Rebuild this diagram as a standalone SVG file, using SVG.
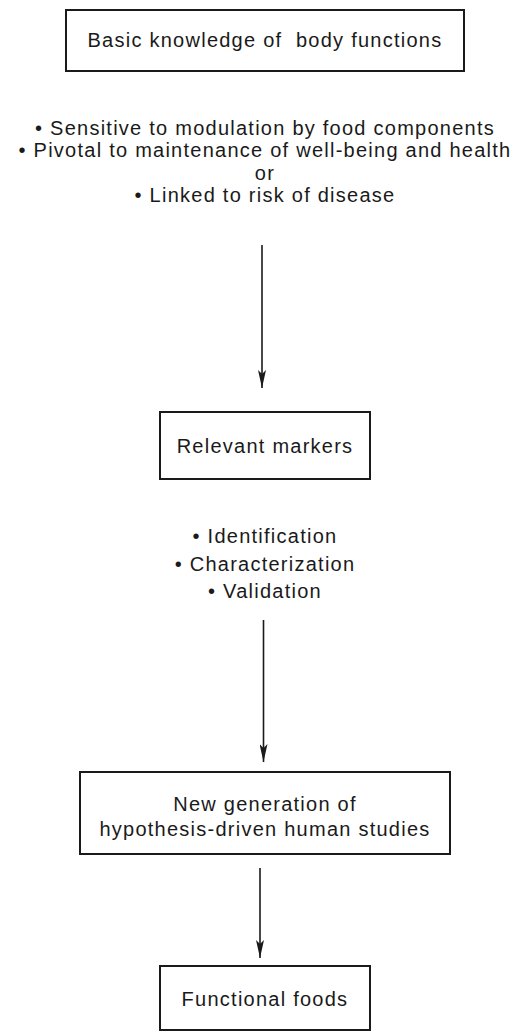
<svg xmlns="http://www.w3.org/2000/svg" width="528" height="1036" viewBox="0 0 528 1036">
<defs>
<style>
.box{fill:#fff;stroke:#1a1a1a;stroke-width:2}
.t{font-family:"Liberation Sans",Arial,sans-serif;font-size:20px;letter-spacing:1.25px;fill:#1a1a1a;text-anchor:middle;white-space:pre}
.c{stroke:#1a1a1a;stroke-width:1.6;fill:none}
</style>
<marker id="ah" viewBox="0 0 18 8" refX="18" refY="4" markerWidth="18" markerHeight="8" markerUnits="userSpaceOnUse" orient="auto">
<path d="M0,0 L18,4 L0,8 L4,4 Z" fill="#1a1a1a"/>
</marker>
</defs>
<rect width="528" height="1036" fill="#fff"/>
<g id="n1">
<rect class="box" x="66" y="10" width="398" height="61"/>
<text class="t" x="265" y="47" xml:space="preserve">Basic knowledge of  body functions</text>
</g>
<g id="l1">
<text class="t" x="265" y="135">• Sensitive to modulation by food components</text>
<text class="t" x="265" y="157">• Pivotal to maintenance of well-being and health</text>
<text class="t" x="265" y="180">or</text>
<text class="t" x="265" y="202">• Linked to risk of disease</text>
</g>
<g id="n2">
<rect class="box" x="160" y="412" width="210" height="67"/>
<text class="t" x="265" y="453">Relevant markers</text>
</g>
<g id="l2">
<text class="t" x="265" y="543">• Identification</text>
<text class="t" x="265" y="571">• Characterization</text>
<text class="t" x="265" y="598">• Validation</text>
</g>
<g id="n3">
<rect class="box" x="80" y="772" width="370" height="82"/>
<text class="t" x="265" y="811">New generation of</text>
<text class="t" x="265" y="836">hypothesis-driven human studies</text>
</g>
<g id="n4">
<rect class="box" x="160" y="966" width="210" height="64"/>
<text class="t" x="265" y="1006">Functional foods</text>
</g>
<g id="connectors">
<line class="c" x1="262" y1="245" x2="262" y2="388" marker-end="url(#ah)"/>
<line class="c" x1="263.5" y1="620" x2="263.5" y2="762" marker-end="url(#ah)"/>
<line class="c" x1="260" y1="868" x2="260" y2="958" marker-end="url(#ah)"/>
</g>
</svg>
